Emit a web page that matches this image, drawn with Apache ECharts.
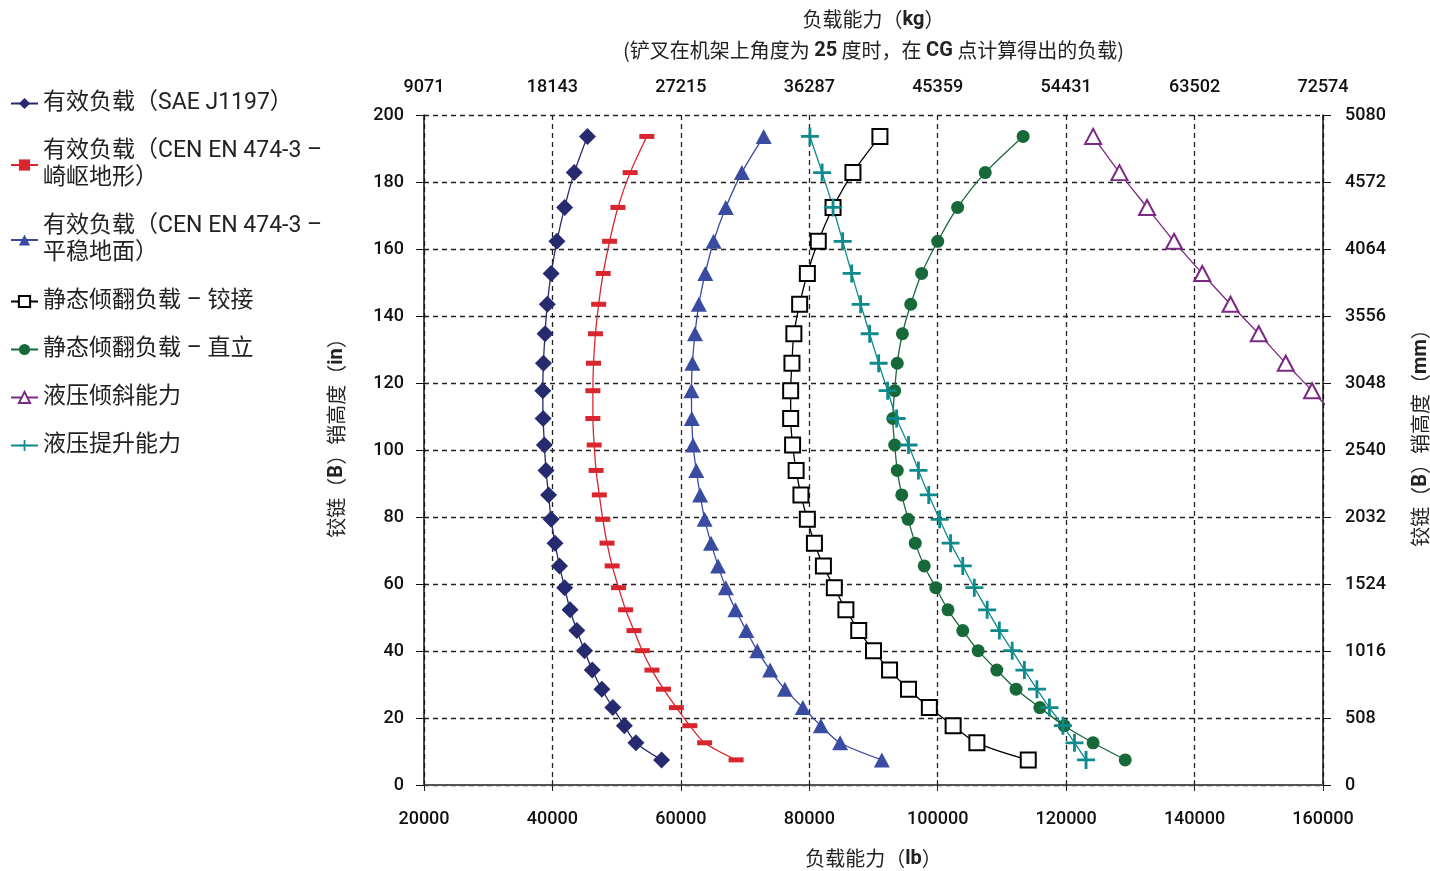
<!DOCTYPE html>
<html><head><meta charset="utf-8">
<script src="https://cdn.jsdelivr.net/npm/echarts@6/dist/echarts.min.js"></script>
<style>html,body{margin:0;padding:0;background:#fff}#c{width:1430px;height:871px}</style>
</head><body><div id="c"></div>
<script>
// ---- data (x in lb, y in inches) ----
const heightsIn = [193.6,182.8,172.4,162.3,152.7,143.5,134.7,125.9,117.7,109.4,101.5,93.9,86.6,79.3,72.2,65.4,58.9,52.3,46.1,40.1,34.3,28.6,23.1,17.7,12.6,7.5];
const payloadSAE = [45450,43400,41900,40700,39800,39200,38850,38600,38500,38550,38750,39000,39400,39800,40400,41100,41900,42750,43800,45000,46200,47700,49400,51200,53000,57000];
const payloadRough = [54700,52100,50200,48900,47900,47200,46700,46400,46300,46300,46500,46800,47300,47850,48500,49300,50300,51400,52700,54000,55500,57300,59300,61400,63700,68600];
const payloadFirm = [72900,69500,67000,65100,63800,62800,62200,61800,61650,61700,61900,62400,63000,63700,64700,65800,67000,68500,70200,71900,73900,76200,79000,81800,84800,91300];
const tippingHinge = [91000,86800,83700,81400,79700,78500,77600,77300,77100,77100,77400,77950,78700,79700,80800,82200,83900,85700,87700,90000,92500,95450,98700,102400,106100,114100];
const tippingUpright = [113300,107400,103100,100000,97500,95800,94500,93700,93300,93000,93300,93700,94400,95400,96500,97900,99700,101600,103900,106300,109200,112200,115900,119700,124200,129200];
const tiltHeightsIn = [193.6,182.8,172.4,162.3,152.7,143.5,134.7,125.9,117.7,109.4];
const hydraulicTilt = [124200,128300,132600,136800,141200,145600,150000,154200,158300,162300];
const hydraulicLift = [80100,82000,83700,85200,86600,88000,89400,90800,92200,93600,95450,97000,98600,100300,102000,103900,105700,107700,109600,111600,113500,115450,117400,119500,121300,123100];
const seriesNames = ['有效负载（SAE J1197）','有效负载（CEN EN 474-3 –\n崎岖地形）','有效负载（CEN EN 474-3 –\n平稳地面）','静态倾翻负载 – 铰接','静态倾翻负载 – 直立','液压倾斜能力','液压提升能力'];
const kgTickLabels = ['9071','18143','27215','36287','45359','54431','63502','72574'];
const mmTickLabels = ['0','508','1016','1524','2032','2540','3048','3556','4064','4572','5080'];

const NARROW = "Roboto,'Liberation Sans',sans-serif";
const MIXED = "Roboto,'Noto Sans CJK SC',sans-serif";
const CJK = "'Noto Sans CJK SC',sans-serif";
const pts = (xs, ys) => xs.map((x, i) => [x, ys[i]]);
const plusPath = 'path://M0,7.6h18v2.8H0z M7.6,0h2.8v18H7.6z';

const rich = {
  t: {fontSize: 20, fontFamily: CJK, color: '#222', lineHeight: 31},
  b: {fontSize: 20, fontFamily: NARROW, fontWeight: 'bold', color: '#222', lineHeight: 31}
};
const grid = {left: 424, right: 107, top: 115, bottom: 86, containLabel: false, outerBoundsMode: 'none'};
const lbl = {fontSize: 18, fontFamily: NARROW, fontWeight: 500, color: '#111'};
const split = {show: true, lineStyle: {color: '#222', type: [5, 4], width: 1.3}};

function mk(name, xs, ys, color, symbol, size, extra) {
  return Object.assign({
    name, type: 'line', data: pts(xs, ys), xAxisIndex: 0, yAxisIndex: 0,
    symbol, symbolSize: size, smooth: 0.3, clip: true,
    lineStyle: {color, width: 1.3}, itemStyle: {color}
  }, extra || {});
}

const chart = echarts.init(document.getElementById('c'), null, {renderer: 'canvas'});
chart.setOption({
  animation: false,
  backgroundColor: '#fff',
  grid,
  legend: {
    orient: 'vertical', left: 5, top: 85, itemWidth: 27, itemHeight: 14, itemGap: 21,
    data: seriesNames,
    textStyle: {fontSize: 23, lineHeight: 27, fontFamily: MIXED, color: '#222'}
  },
  xAxis: [{
    type: 'value', position: 'bottom', min: 20000, max: 160000, interval: 20000,
    axisLine: {show: true, lineStyle: {color: '#555', width: 2}},
    axisTick: {show: true, inside: false, length: 6, lineStyle: {color: '#222'}},
    axisLabel: Object.assign({margin: 25, formatter: v => String(v)}, lbl),
    splitLine: split,
    name: '{t|负载能力（}{b|lb}{t|）}', nameLocation: 'middle', nameGap: 58,
    nameTextStyle: {rich}
  }, {
    type: 'value', position: 'top', min: 20000, max: 160000, interval: 20000,
    axisLine: {show: true, lineStyle: {color: '#555', width: 2}},
    axisTick: {show: true, inside: false, length: 5, lineStyle: {color: '#222'}},
    axisLabel: Object.assign({margin: 19, formatter: v => kgTickLabels[Math.round((v - 20000) / 20000)]}, lbl),
    splitLine: {show: false},
    name: '{t|负载能力（}{b|kg}{t|）}\n{t|(铲叉在机架上角度为 }{b|25}{t| 度时，在 }{b|CG}{t| 点计算得出的负载)}',
    nameLocation: 'middle', nameGap: 49,
    nameTextStyle: {rich}
  }],
  yAxis: [{
    type: 'value', position: 'left', min: 0, max: 200, interval: 20,
    axisLine: {show: true, lineStyle: {color: '#111', width: 1.5}},
    axisTick: {show: true, inside: false, length: 8, lineStyle: {color: '#111'}},
    axisLabel: Object.assign({margin: 20, padding: [8, 0, 0, 0]}, lbl),
    splitLine: split,
    name: '{t|铰链（}{b|B}{t|）销高度（}{b|in}{t|）}', nameLocation: 'middle', nameGap: 72,
    nameTextStyle: {rich, padding: [0, 0, 0, 34]}
  }, {
    type: 'value', position: 'right', min: 0, max: 200, interval: 20,
    axisLine: {show: true, lineStyle: {color: '#111', width: 1.5}},
    axisTick: {show: true, inside: false, length: 8, lineStyle: {color: '#111'}},
    axisLabel: Object.assign({margin: 22, padding: [8, 0, 0, 0], formatter: v => mmTickLabels[Math.round(v / 20)]}, lbl),
    splitLine: {show: false},
    name: '{t|铰链（}{b|B}{t|）销高度（}{b|mm}{t|）}', nameLocation: 'middle', nameGap: 82,
    nameTextStyle: {rich, padding: [0, 0, 0, 34]}
  }],
  series: [
    mk(seriesNames[0], payloadSAE, heightsIn, '#262A6E', 'diamond', [17, 17]),
    mk(seriesNames[1], payloadRough, heightsIn, '#D9262E', 'rect', [15, 5]),
    mk(seriesNames[2], payloadFirm, heightsIn, '#3A4BA2', 'triangle', [16, 15]),
    mk(seriesNames[3], tippingHinge, heightsIn, '#000000', 'emptyRect', [15, 15], {itemStyle: {color: '#000', borderWidth: 2.5}}),
    mk(seriesNames[4], tippingUpright, heightsIn, '#17693A', 'circle', [13, 13]),
    mk(seriesNames[5], hydraulicTilt, tiltHeightsIn, '#7B2A83', 'emptyTriangle', [16, 15], {itemStyle: {color: '#7B2A83', borderWidth: 2.5}}),
    mk(seriesNames[6], hydraulicLift, heightsIn, '#0E8A8C', plusPath, [18, 18])
  ]
});
</script></body></html>
